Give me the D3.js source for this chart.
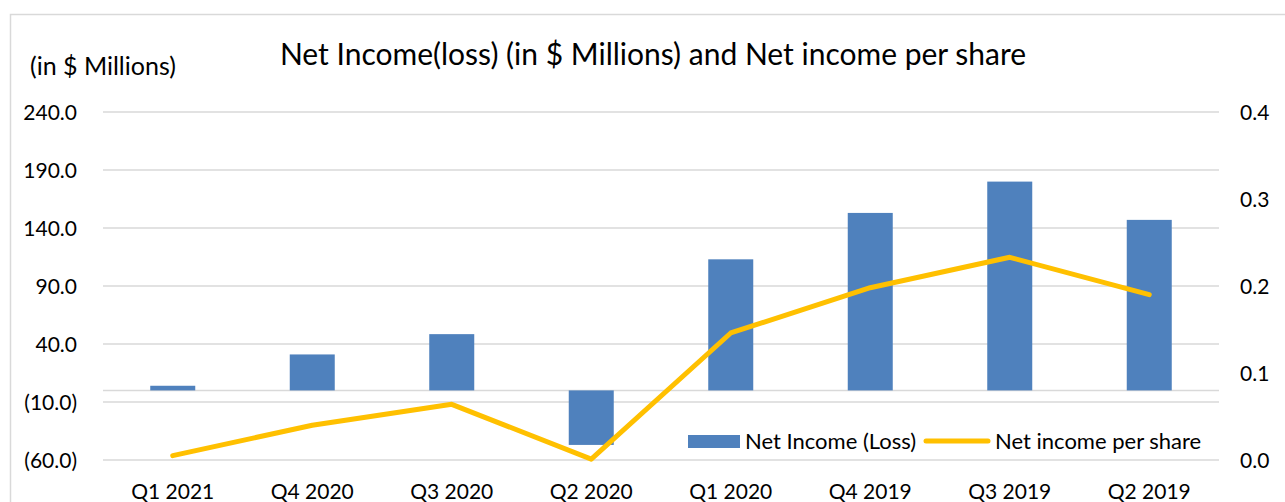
<!DOCTYPE html>
<html><head><meta charset="utf-8">
<script src="https://cdn.jsdelivr.net/npm/d3@7"></script>
<style>body{margin:0;background:#fff;}svg{display:block;}svg text{font-family:Lato,"Open Sans",sans-serif;}</style>
</head><body>
<svg id="c" width="1285" height="502"></svg>
<script>
const categories = ["Q1 2021","Q4 2020","Q3 2020","Q2 2020","Q1 2020","Q4 2019","Q3 2019","Q2 2019"];
const netIncome = [4, 31, 48.5, -47, 113, 153, 180, 147];
const perShare = [0.005, 0.04, 0.064, 0.001, 0.146, 0.198, 0.233, 0.19];
const leftTicks = [-60, -10, 40, 90, 140, 190, 240];
const rightTicks = [0, 0.1, 0.2, 0.3, 0.4];

const svg = d3.select("#c");
const m = {l:103, r:1219, t:112, b:460};

svg.append("rect").attr("x",10.5).attr("y",14.5).attr("width",1300).attr("height",520)
  .attr("fill","none").attr("stroke","#d9d9d9").attr("stroke-width",1.5);

const x = d3.scaleBand().domain(categories).range([m.l, m.r]);
const yL = d3.scaleLinear().domain([-60,240]).range([m.b, m.t]);
const yR = d3.scaleLinear().domain([0,0.4]).range([m.b, m.t]);

svg.append("g").selectAll("line").data(leftTicks).join("line")
  .attr("x1",m.l).attr("x2",m.r).attr("y1",d=>yL(d)).attr("y2",d=>yL(d))
  .attr("stroke","#d9d9d9").attr("stroke-width",1.5);
svg.append("line").attr("x1",m.l).attr("x2",m.r).attr("y1",yL(0)).attr("y2",yL(0))
  .attr("stroke","#d9d9d9").attr("stroke-width",1.5);

const fmtL = d => d < 0 ? "(" + d3.format(".1f")(-d) + ")" : d3.format(".1f")(d);
const axL = d3.axisLeft(yL).tickValues(leftTicks).tickFormat(fmtL).tickSize(0).tickPadding(0);
const gL = svg.append("g").attr("transform",`translate(77,0)`).call(axL);
gL.attr("font-family",null).attr("font-size",null);
gL.select(".domain").remove();
gL.selectAll("text").attr("font-size",21).attr("fill","#000").attr("dy","0.36em");

const axR = d3.axisRight(yR).tickValues(rightTicks).tickFormat(d3.format(".1f")).tickSize(0).tickPadding(0);
const gR = svg.append("g").attr("transform",`translate(1240,0)`).call(axR);
gR.attr("font-family",null).attr("font-size",null);
gR.select(".domain").remove();
gR.selectAll("text").attr("font-size",21).attr("fill","#000").attr("dy","0.36em");

const axX = d3.axisBottom(x).tickSize(0).tickPadding(0);
const gX = svg.append("g").attr("transform",`translate(0,499)`).call(axX);
gX.attr("font-family",null).attr("font-size",null);
gX.select(".domain").remove();
gX.selectAll("text").attr("font-size",21).attr("fill","#000").attr("y",0).attr("dy",0);

const bw = 45;
svg.append("g").selectAll("rect").data(categories).join("rect")
  .attr("x",d=>x(d)+x.bandwidth()/2-bw/2).attr("width",bw)
  .attr("y",(d,i)=>yL(Math.max(0,netIncome[i])))
  .attr("height",(d,i)=>Math.abs(yL(netIncome[i])-yL(0)))
  .attr("fill","#4F81BD");

const line = d3.line().x((d,i)=>x(categories[i])+x.bandwidth()/2).y(d=>yR(d));
svg.append("path").datum(perShare).attr("d",line).attr("fill","none")
  .attr("stroke","#FFC000").attr("stroke-width",5).attr("stroke-linecap","round").attr("stroke-linejoin","round");

svg.append("text").attr("x",653).attr("y",65).attr("text-anchor","middle")
  .attr("font-size",30).attr("fill","#000").text("Net Income(loss) (in $ Millions) and Net income per share");
svg.append("text").attr("x",30).attr("y",75).attr("font-size",25).attr("fill","#000").text("(in $ Millions)");

const lg = svg.append("g");
lg.append("rect").attr("x",688).attr("y",435).attr("width",52).attr("height",13).attr("fill","#4F81BD");
lg.append("text").attr("x",745).attr("y",449).attr("font-size",22).attr("fill","#000").text("Net Income (Loss)");
lg.append("line").attr("x1",926).attr("x2",988).attr("y1",441).attr("y2",441)
  .attr("stroke","#FFC000").attr("stroke-width",5).attr("stroke-linecap","round");
lg.append("text").attr("x",995).attr("y",449).attr("font-size",22).attr("fill","#000").text("Net income per share");
</script>
</body></html>
